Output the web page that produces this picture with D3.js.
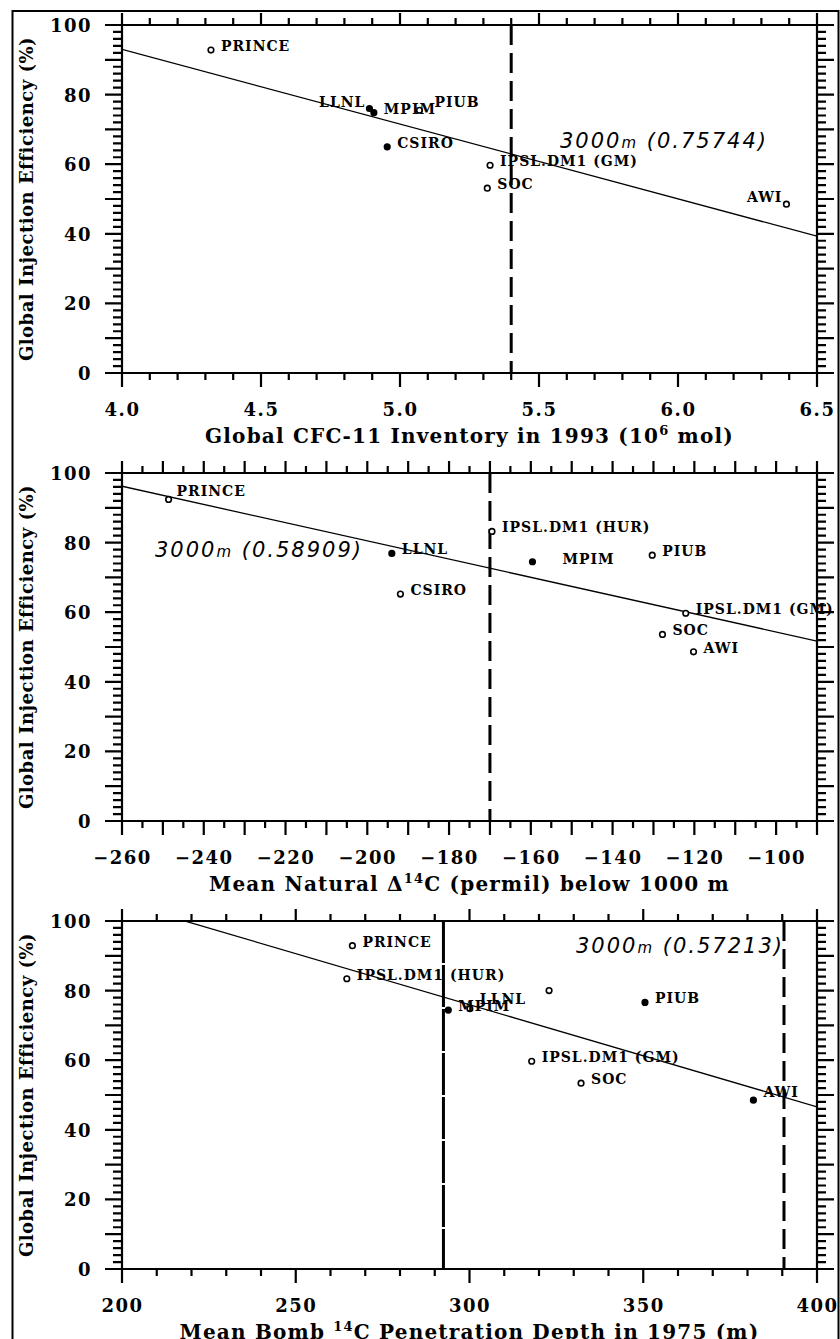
<!DOCTYPE html>
<html>
<head>
<meta charset="utf-8">
<script src="https://cdn.jsdelivr.net/npm/d3@7"></script>
<style>
  body { margin: 0; background: #fff; color: #000; }
  svg { display: block; }
  .tick text { font-family: "DejaVu Serif", serif; font-weight: bold; font-size: 18px; letter-spacing: 1.5px; fill: #000; }
</style>
</head>
<body>
<div id="chart"></div>
<script>
// ---- data ----
var models1 = ["PRINCE", "LLNL", "MPIM", "PIUB", "CSIRO", "IPSL.DM1 (GM)", "SOC", "AWI"];
var cfcInventory = [4.32, 4.89, 4.906, 5.07, 4.954, 5.324, 5.314, 6.39];
var eff1 = [92.8, 76.0, 74.8, 75.5, 65.0, 59.7, 53.1, 48.5];

var models2 = ["PRINCE", "LLNL", "CSIRO", "IPSL.DM1 (HUR)", "MPIM", "PIUB", "IPSL.DM1 (GM)", "SOC", "AWI"];
var naturalC14 = [-248.6, -194.0, -191.9, -169.5, -159.6, -130.3, -122.1, -127.8, -120.2];
var eff2 = [92.4, 76.9, 65.2, 83.2, 74.5, 76.4, 59.7, 53.6, 48.6];

var models3 = ["PRINCE", "IPSL.DM1 (HUR)", "MPIM", "LLNL", "", "PIUB", "IPSL.DM1 (GM)", "SOC", "AWI"];
var bombDepth = [266.3, 264.7, 293.9, 300.1, 322.9, 350.5, 317.9, 332.1, 381.7];
var eff3 = [92.9, 83.4, 74.4, 74.8, 80.0, 76.6, 59.7, 53.4, 48.5];

// regression line end points
var fit1 = [[4.0, 93.0], [6.5, 39.3]];
var fit2 = [[-260, 96.2], [-90, 51.7]];
var fit3 = [[200, 105.3], [400, 46.6]];
var corr = ["0.75744", "0.58909", "0.57213"];

// vertical reference lines
var dashedAt = [5.4, -170, 390.5];
var solidAt = [null, null, 292.5];

// axes
var xDomains = [[4.0, 6.5], [-260, -90], [200, 400]];
var xLabelTicks = [[4.0, 4.5, 5.0, 5.5, 6.0, 6.5], d3.range(-260, -99, 20), [200, 250, 300, 350, 400]];
var xMajorTicks = [[4.0, 4.5, 5.0, 5.5, 6.0, 6.5], d3.range(-260, -89, 10), [200, 250, 300, 350, 400]];
var xMinorStep = [0.1, 5, 10];
var yLabelTicks = [0, 20, 40, 60, 80, 100];

// ---- layout ----
var W = 840, H = 1339;
var left = 122, right = 817, ph = 348;
var tops = [25, 473, 921];
var pw = right - left;

var panelLabel = {
  "0:LLNL": [-4, -2, "end"], "0:AWI": [-4, -2, "end"], "0:PIUB": [15, -3, "start"],
  "1:MPIM": [30, 2, "start"], "1:PRINCE": [8, -3, "start"],
  "2:LLNL": [10, -5, "start"], "2:AWI": [10, -3, "start"]
};
var filled = {
  0: ["CSIRO", "MPIM", "LLNL"],
  1: ["LLNL", "MPIM"],
  2: ["MPIM", "PIUB", "AWI"]
};

var svg = d3.select("#chart").append("svg")
  .attr("width", W).attr("height", H);

svg.append("rect")
  .attr("x", 12.5).attr("y", 11).attr("width", 826).attr("height", 1330)
  .attr("fill", "none").attr("stroke", "#000").attr("stroke-width", 2);

var panels = [
  { names: models1, xs: cfcInventory, ys: eff1, fit: fit1,
    xlabel: [["Global CFC-11 Inventory in 1993 (10"], ["6", "sup"], [" mol)"]], fmt: d3.format(".1f"), note: [560, 148] },
  { names: models2, xs: naturalC14, ys: eff2, fit: fit2,
    xlabel: [["Mean Natural \u0394"], ["14", "sup"], ["C (permil) below 1000 m"]], fmt: function (d) { return d3.format("d")(d).replace("-", "\u2212"); }, note: [155, 557] },
  { names: models3, xs: bombDepth, ys: eff3, fit: fit3,
    xlabel: [["Mean Bomb "], ["14", "sup"], ["C Penetration Depth in 1975 (m)"]], fmt: d3.format("d"), note: [576, 953] }
];

panels.forEach(function (p, i) {
  var g = svg.append("g").attr("transform", "translate(" + left + "," + tops[i] + ")");
  var x = d3.scaleLinear().domain(xDomains[i]).range([0, pw]);
  var y = d3.scaleLinear().domain([0, 100]).range([ph, 0]);

  var dom = xDomains[i];
  var nMinor = Math.round((dom[1] - dom[0]) / xMinorStep[i]);
  var minor = d3.range(nMinor + 1).map(function (k) { return dom[0] + k * xMinorStep[i]; });
  var yMinor = d3.range(0, 101, 2);
  var yMid = d3.range(0, 101, 10);

  // tick labels via d3 axes
  var bx = g.append("g").attr("transform", "translate(0," + ph + ")")
    .call(d3.axisBottom(x).tickValues(xLabelTicks[i]).tickSize(0).tickFormat(p.fmt));
  bx.select(".domain").remove();
  bx.selectAll("text").attr("y", 43).attr("dy", 0);
  var ly = g.append("g")
    .call(d3.axisLeft(y).tickValues(yLabelTicks).tickSize(0).tickFormat(d3.format("d")));
  ly.select(".domain").remove();
  ly.selectAll("text").attr("x", -30).attr("dy", "0.36em");

  var clipId = "clip" + i;
  g.append("clipPath").attr("id", clipId).append("rect").attr("width", pw).attr("height", ph);

  // regression line
  var line = d3.line().x(function (d) { return x(d[0]); }).y(function (d) { return y(d[1]); });
  g.append("path").datum(p.fit).attr("d", line)
    .attr("clip-path", "url(#" + clipId + ")")
    .attr("fill", "none").attr("stroke", "#000").attr("stroke-width", 1.3);

  // vertical lines
  g.append("line").attr("x1", x(dashedAt[i])).attr("x2", x(dashedAt[i]))
    .attr("y1", y(100)).attr("y2", y(0))
    .attr("stroke", "#000").attr("stroke-width", 3).attr("stroke-dasharray", "20,8");
  if (solidAt[i] !== null) {
    g.append("line").attr("x1", x(solidAt[i])).attr("x2", x(solidAt[i]))
      .attr("y1", y(100)).attr("y2", y(0))
      .attr("stroke", "#000").attr("stroke-width", 3).attr("stroke-dasharray", "42,2");
  }

  // correlation note
  var note = g.append("text")
    .attr("x", p.note[0] - left).attr("y", p.note[1] - tops[i])
    .style("font-family", "'DejaVu Sans', sans-serif").style("font-style", "italic")
    .style("font-size", "21px").style("letter-spacing", "2px");
  note.append("tspan").text("3000");
  note.append("tspan").style("font-size", "15px").text("m");
  note.append("tspan").text(" (" + corr[i] + ")");

  // points
  var pts = p.names.map(function (n, k) { return { name: n, x: p.xs[k], y: p.ys[k] }; });
  g.selectAll("circle.pt").data(pts).enter().append("circle")
    .attr("class", "pt")
    .attr("cx", function (d) { return x(d.x); })
    .attr("cy", function (d) { return y(d.y); })
    .attr("r", 2.8)
    .attr("fill", function (d) { return filled[i].indexOf(d.name) >= 0 ? "#000" : "#fff"; })
    .attr("stroke", "#000").attr("stroke-width", 1.6);

  g.selectAll("text.lab").data(pts.filter(function (d) { return d.name; })).enter().append("text")
    .attr("class", "lab")
    .each(function (d) {
      var o = panelLabel[i + ":" + d.name] || [10, 1, "start"];
      d3.select(this).attr("x", x(d.x) + o[0]).attr("y", y(d.y) + o[1]).attr("text-anchor", o[2]);
    })
    .style("font-family", "'DejaVu Serif', serif").style("font-weight", "bold")
    .style("font-size", "14px").style("letter-spacing", "1px")
    .text(function (d) { return d.name; });

  // x axis title
  var xt = g.append("text").attr("x", pw / 2).attr("y", ph + 70).attr("text-anchor", "middle")
    .style("font-family", "'DejaVu Serif', serif").style("font-weight", "bold")
    .style("font-size", "20px").style("letter-spacing", "1.2px");
  p.xlabel.forEach(function (part, k) {
    if (part[1] === "sup") {
      xt.append("tspan").attr("dy", -8).style("font-size", "13px").text(part[0]);
    } else {
      var t = xt.append("tspan").text(part[0]);
      if (k > 0) t.attr("dy", 8);
    }
  });

  // y axis title
  g.append("text")
    .attr("transform", "translate(" + (33 - left) + "," + (ph / 2) + ") rotate(-90)")
    .attr("text-anchor", "middle")
    .style("font-family", "'DejaVu Serif', serif").style("font-weight", "bold")
    .style("font-size", "18px").style("letter-spacing", "0.5px")
    .text("Global Injection Efficiency (%)");

  // plot frame plus all outward tick marks in one path, drawn last
  var fr = d3.path();
  fr.rect(0, 0, pw, ph);
  function addTicks(scale, values, base, len, vert) {
    values.forEach(function (v) {
      var s = scale(v);
      if (vert) { fr.moveTo(s, base); fr.lineTo(s, base + len); }
      else { fr.moveTo(base, s); fr.lineTo(base + len, s); }
    });
  }
  addTicks(x, minor, ph, 7, true);
  addTicks(x, xMajorTicks[i], ph, 14, true);
  addTicks(x, minor, 0, -7, true);
  addTicks(x, xMajorTicks[i], 0, -12, true);
  addTicks(y, yMinor, 0, -9, false);
  addTicks(y, yMid, 0, -17, false);
  addTicks(y, yMinor, pw, 9, false);
  addTicks(y, yMid, pw, 17, false);
  g.append("path").attr("d", fr.toString())
    .attr("fill", "none").attr("stroke", "#000").attr("stroke-width", 2.2);
});
</script>
</body>
</html>
